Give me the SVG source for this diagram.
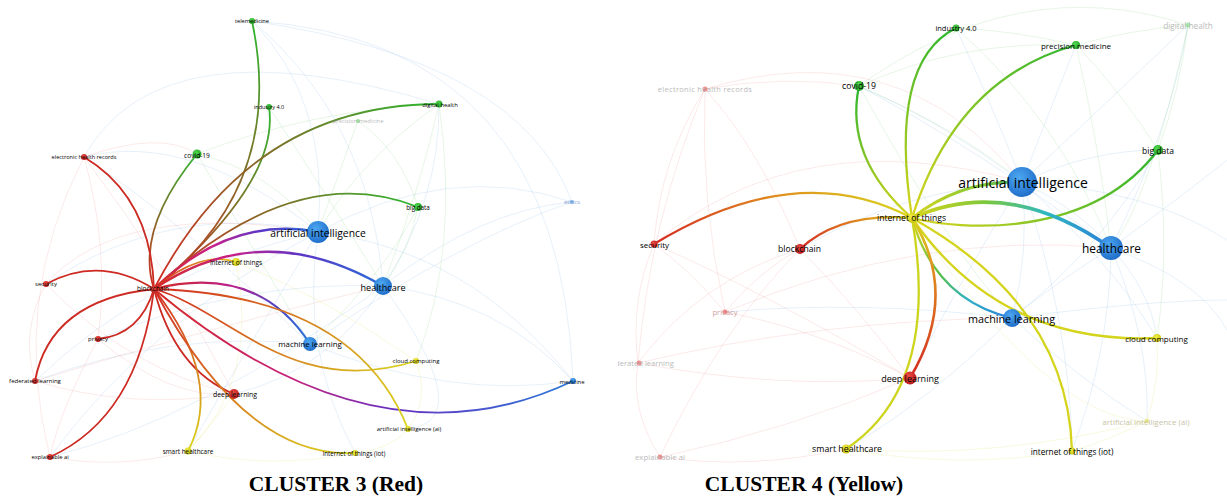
<svg xmlns="http://www.w3.org/2000/svg" width="1227" height="499" viewBox="0 0 1227 499">
<style>
  .lbl{font-family:"Open Sans","DejaVu Sans",sans-serif;fill:#000;text-anchor:middle;dominant-baseline:central}
  .dim{fill:#8c8c8c}
  .title{font-family:"Liberation Serif","Times New Roman",serif;font-weight:bold;font-size:21.5px;text-anchor:middle;fill:#000}
  .link{fill:none;stroke-linecap:round}
  .faint path{fill:none;stroke-width:1}
  .fr path{stroke:#ec7a7a;opacity:.17}
  .fb path{stroke:#8fbce8;opacity:.22}
  .fg path{stroke:#8fd88f;opacity:.22}
  .fy path{stroke:#e6e27a;opacity:.25}
</style>
<defs>
  <clipPath id="clipL"><rect x="0" y="0" width="598" height="472"/></clipPath>
  <clipPath id="clipR"><rect x="618" y="0" width="609" height="472"/></clipPath>

  <!-- node fills -->
  <radialGradient id="nBlue" cx="0.4" cy="0.35" r="0.75"><stop offset="0" stop-color="#4ea8f2"/><stop offset="1" stop-color="#1966c4"/></radialGradient>
  <radialGradient id="nGreen" cx="0.4" cy="0.35" r="0.75"><stop offset="0" stop-color="#4fd84f"/><stop offset="1" stop-color="#1f9a1f"/></radialGradient>
  <radialGradient id="nRed" cx="0.4" cy="0.35" r="0.75"><stop offset="0" stop-color="#f04a40"/><stop offset="1" stop-color="#b2161a"/></radialGradient>
  <radialGradient id="nYellow" cx="0.4" cy="0.35" r="0.75"><stop offset="0" stop-color="#f4f040"/><stop offset="1" stop-color="#c0bc10"/></radialGradient>

  <!-- cluster 3 link colours: blockchain (red) towards each partner -->
  <linearGradient id="gL-tele" gradientUnits="userSpaceOnUse" x1="154" y1="289" x2="252" y2="21"><stop offset="0" stop-color="#d42a22"/><stop offset="1" stop-color="#2fb52f"/></linearGradient>
  <linearGradient id="gL-ind" gradientUnits="userSpaceOnUse" x1="154" y1="289" x2="269" y2="107"><stop offset="0" stop-color="#d42a22"/><stop offset="1" stop-color="#2fb52f"/></linearGradient>
  <linearGradient id="gL-cov" gradientUnits="userSpaceOnUse" x1="154" y1="289" x2="197" y2="154"><stop offset="0" stop-color="#d42a22"/><stop offset="1" stop-color="#2fb52f"/></linearGradient>
  <linearGradient id="gL-dh" gradientUnits="userSpaceOnUse" x1="154" y1="289" x2="439" y2="104"><stop offset="0" stop-color="#d42a22"/><stop offset="1" stop-color="#2fb52f"/></linearGradient>
  <linearGradient id="gL-bd" gradientUnits="userSpaceOnUse" x1="154" y1="289" x2="418" y2="207"><stop offset="0" stop-color="#d42a22"/><stop offset="1" stop-color="#2fb52f"/></linearGradient>
  <linearGradient id="gL-ai" gradientUnits="userSpaceOnUse" x1="154" y1="289" x2="318" y2="232"><stop offset="0" stop-color="#d42a22"/><stop offset="0.4" stop-color="#c8208a"/><stop offset="0.7" stop-color="#5a36c8"/><stop offset="1" stop-color="#2a6fd8"/></linearGradient>
  <linearGradient id="gL-hc" gradientUnits="userSpaceOnUse" x1="154" y1="289" x2="383" y2="286"><stop offset="0" stop-color="#d42a22"/><stop offset="0.35" stop-color="#c8208a"/><stop offset="0.65" stop-color="#5a36c8"/><stop offset="1" stop-color="#2a6fd8"/></linearGradient>
  <linearGradient id="gL-ml" gradientUnits="userSpaceOnUse" x1="154" y1="289" x2="310" y2="344"><stop offset="0" stop-color="#d42a22"/><stop offset="0.45" stop-color="#b8208e"/><stop offset="0.75" stop-color="#4a48c8"/><stop offset="1" stop-color="#2a78d8"/></linearGradient>
  <linearGradient id="gL-med" gradientUnits="userSpaceOnUse" x1="154" y1="289" x2="573" y2="381"><stop offset="0" stop-color="#d42a22"/><stop offset="0.35" stop-color="#c8207a"/><stop offset="0.6" stop-color="#6a30c0"/><stop offset="1" stop-color="#2a78d8"/></linearGradient>
  <linearGradient id="gL-iot" gradientUnits="userSpaceOnUse" x1="154" y1="289" x2="236" y2="262"><stop offset="0" stop-color="#d42a22"/><stop offset="1" stop-color="#e8c020"/></linearGradient>
  <linearGradient id="gL-cc" gradientUnits="userSpaceOnUse" x1="154" y1="289" x2="416" y2="361"><stop offset="0" stop-color="#d42a22"/><stop offset="1" stop-color="#d9d51c"/></linearGradient>
  <linearGradient id="gL-aiai" gradientUnits="userSpaceOnUse" x1="154" y1="289" x2="408" y2="429"><stop offset="0" stop-color="#d42a22"/><stop offset="1" stop-color="#d9d51c"/></linearGradient>
  <linearGradient id="gL-sh" gradientUnits="userSpaceOnUse" x1="154" y1="289" x2="188" y2="451"><stop offset="0" stop-color="#d42a22"/><stop offset="1" stop-color="#d9d51c"/></linearGradient>
  <linearGradient id="gL-iotiot" gradientUnits="userSpaceOnUse" x1="154" y1="289" x2="355" y2="453"><stop offset="0" stop-color="#d42a22"/><stop offset="1" stop-color="#d9d51c"/></linearGradient>

  <!-- cluster 4 link colours: internet of things (yellow) towards each partner -->
  <linearGradient id="gR-ind" gradientUnits="userSpaceOnUse" x1="912" y1="218" x2="956" y2="28"><stop offset="0" stop-color="#d9d51c"/><stop offset="1" stop-color="#2fb52f"/></linearGradient>
  <linearGradient id="gR-pm" gradientUnits="userSpaceOnUse" x1="912" y1="218" x2="1076" y2="45"><stop offset="0" stop-color="#d9d51c"/><stop offset="1" stop-color="#2fb52f"/></linearGradient>
  <linearGradient id="gR-cov" gradientUnits="userSpaceOnUse" x1="912" y1="218" x2="859" y2="86"><stop offset="0" stop-color="#d9d51c"/><stop offset="1" stop-color="#2fb52f"/></linearGradient>
  <linearGradient id="gR-bd" gradientUnits="userSpaceOnUse" x1="912" y1="218" x2="1158" y2="150"><stop offset="0" stop-color="#d9d51c"/><stop offset="1" stop-color="#2fb52f"/></linearGradient>
  <linearGradient id="gR-ai" gradientUnits="userSpaceOnUse" x1="912" y1="218" x2="1022" y2="182"><stop offset="0" stop-color="#d9d51c"/><stop offset="0.7" stop-color="#7cc83a"/><stop offset="1" stop-color="#3cae6a"/></linearGradient>
  <linearGradient id="gR-hc" gradientUnits="userSpaceOnUse" x1="912" y1="218" x2="1111" y2="248"><stop offset="0" stop-color="#d9d51c"/><stop offset="0.35" stop-color="#7cc83a"/><stop offset="0.65" stop-color="#2fb8c0"/><stop offset="1" stop-color="#2a7ed8"/></linearGradient>
  <linearGradient id="gR-ml" gradientUnits="userSpaceOnUse" x1="912" y1="218" x2="1012" y2="318"><stop offset="0" stop-color="#d9d51c"/><stop offset="0.4" stop-color="#5cc040"/><stop offset="0.7" stop-color="#2fb0c8"/><stop offset="1" stop-color="#2a7ed8"/></linearGradient>
  <linearGradient id="gR-sec" gradientUnits="userSpaceOnUse" x1="912" y1="218" x2="654" y2="244"><stop offset="0" stop-color="#d9d51c"/><stop offset="0.5" stop-color="#e0901e"/><stop offset="1" stop-color="#d42a22"/></linearGradient>
  <linearGradient id="gR-bc" gradientUnits="userSpaceOnUse" x1="912" y1="218" x2="800" y2="249"><stop offset="0" stop-color="#d9d51c"/><stop offset="0.4" stop-color="#e09020"/><stop offset="1" stop-color="#d42a22"/></linearGradient>
  <linearGradient id="gR-dl" gradientUnits="userSpaceOnUse" x1="912" y1="218" x2="910" y2="378"><stop offset="0" stop-color="#d9d51c"/><stop offset="0.3" stop-color="#e0901e"/><stop offset="1" stop-color="#d42a22"/></linearGradient>
</defs>

<!-- ===================== CLUSTER 3 ===================== -->
<g id="cluster3" clip-path="url(#clipL)">
  <g id="c3-background-links" class="faint">
    <g class="fb">
      <path d="M318 232 Q470 250 573 381"/><path d="M318 232 Q450 160 572 202"/><path d="M318 232 Q330 100 252 21"/>
      <path d="M318 232 Q190 130 84 157"/><path d="M318 232 Q170 200 46 284"/><path d="M318 232 Q150 320 50 457"/>
      <path d="M318 232 Q150 270 35 381"/><path d="M318 232 Q240 360 188 451"/><path d="M318 232 Q300 350 355 453"/>
      <path d="M383 286 Q500 300 573 381"/><path d="M383 286 Q480 210 572 202"/><path d="M383 286 Q440 200 439 104"/>
      <path d="M383 286 Q370 120 252 21"/><path d="M383 286 Q240 280 98 339"/><path d="M383 286 Q330 370 234 394"/>
      <path d="M383 286 Q200 420 50 457"/><path d="M310 344 Q460 240 572 202"/><path d="M310 344 Q450 400 573 381"/>
      <path d="M310 344 Q170 330 35 381"/><path d="M310 344 Q180 220 84 157"/><path d="M252 21 Q560 40 573 381"/>
      <path d="M84 157 Q160 20 439 104"/><path d="M572 202 Q520 60 252 21"/><path d="M383 286 Q480 420 408 429"/>
    </g>
    <g class="fg">
      <path d="M439 104 Q360 160 318 232"/><path d="M439 104 Q420 190 383 286"/><path d="M418 207 Q410 250 383 286"/>
      <path d="M358 121 Q340 170 318 232"/><path d="M197 154 Q270 170 318 232"/><path d="M269 107 Q330 200 383 286"/>
      <path d="M439 104 Q310 110 197 154"/><path d="M358 121 Q400 150 418 207"/><path d="M418 207 Q380 280 310 344"/>
      <path d="M439 104 Q460 250 416 361"/><path d="M197 154 Q260 260 310 344"/>
    </g>
    <g class="fr">
      <path d="M84 157 Q110 250 98 339"/><path d="M46 284 Q20 330 35 381"/><path d="M98 339 Q170 400 234 394"/>
      <path d="M35 381 Q130 410 234 394"/><path d="M50 457 Q120 470 188 451"/><path d="M98 339 Q60 410 50 457"/>
      <path d="M46 284 Q130 370 234 394"/><path d="M84 157 Q170 270 234 394"/><path d="M84 157 Q10 300 50 457"/>
      <path d="M84 157 Q160 130 197 154"/><path d="M46 284 Q120 200 318 232"/><path d="M35 381 Q200 330 383 286"/>
    </g>
    <g class="fy">
      <path d="M188 451 Q270 470 355 453"/><path d="M416 361 Q430 400 408 429"/><path d="M236 262 Q330 300 416 361"/>
      <path d="M408 429 Q390 450 355 453"/><path d="M188 451 Q215 420 234 394"/><path d="M236 262 Q260 380 188 451"/>
    </g>
  </g>

  <g id="c3-links" stroke-width="1.8">
    <path class="link" stroke="url(#gL-tele)" d="M154 289 Q287 185 252 21"/>
    <path class="link" stroke="url(#gL-ind)" d="M154 289 Q280 182 269 107"/>
    <path class="link" stroke="url(#gL-cov)" d="M154 289 Q135 230 197 154"/>
    <path class="link" stroke="#cc2a22" d="M154 289 Q151 197 84 157"/>
    <path class="link" stroke="url(#gL-dh)" d="M154 289 Q250 104 439 104"/>
    <path class="link" stroke="url(#gL-bd)" d="M154 289 Q294 158 418 207"/>
    <path class="link" stroke="url(#gL-ai)" stroke-width="2.4" d="M154 289 Q230 215 318 232"/>
    <path class="link" stroke="url(#gL-iot)" d="M154 289 Q200 250 236 262"/>
    <path class="link" stroke="url(#gL-hc)" stroke-width="2.4" d="M154 289 Q262 216 383 286"/>
    <path class="link" stroke="#cc2a22" d="M154 289 Q100 255 46 284"/>
    <path class="link" stroke="#cc2a22" d="M154 289 Q140 335 98 339"/>
    <path class="link" stroke="url(#gL-ml)" stroke-width="2.2" d="M154 289 Q258 263 310 344"/>
    <path class="link" stroke="url(#gL-cc)" d="M154 289 C230 310 290 400 416 361"/>
    <path class="link" stroke="url(#gL-med)" d="M154 289 Q376 475 573 381"/>
    <path class="link" stroke="#cc2a22" d="M154 289 Q50 300 35 381"/>
    <path class="link" stroke="#cc2a22" d="M154 289 Q175 370 234 394"/>
    <path class="link" stroke="url(#gL-aiai)" d="M154 289 Q355 295 408 429"/>
    <path class="link" stroke="#cc2a22" d="M154 289 Q138 417 50 457"/>
    <path class="link" stroke="url(#gL-sh)" d="M154 289 Q225 380 188 451"/>
    <path class="link" stroke="url(#gL-iotiot)" d="M154 289 Q245 459 355 453"/>
  </g>

  <g id="c3-precision-medicine" opacity="0.6"><circle cx="358" cy="121" r="2" fill="#5ccc5c"/><text class="lbl dim" x="358" y="121" font-size="5.8">precision medicine</text></g>
  <g id="c3-ethics" opacity="0.8"><circle cx="572" cy="202" r="2" fill="#6aa6e6"/><text class="lbl" style="fill:#5a88c8" x="572" y="202" font-size="5.8">ethics</text></g>
  <g id="c3-telemedicine"><circle cx="252" cy="21" r="3" fill="url(#nGreen)"/><text class="lbl" x="252" y="21" font-size="5.7">telemedicine</text></g>
  <g id="c3-industry-4-0"><circle cx="269" cy="107" r="3" fill="url(#nGreen)"/><text class="lbl" x="269" y="107" font-size="5.5">industry 4.0</text></g>
  <g id="c3-electronic-health-records"><circle cx="84" cy="157" r="3" fill="url(#nRed)"/><text class="lbl" x="84" y="157" font-size="5.6">electronic health records</text></g>
  <g id="c3-covid-19"><circle cx="197" cy="154" r="4.5" fill="url(#nGreen)"/><text class="lbl" x="197" y="155" font-size="6.6">covid-19</text></g>
  <g id="c3-digital-health"><circle cx="439" cy="104" r="3.5" fill="url(#nGreen)"/><text class="lbl" x="440" y="105" font-size="5.9">digital health</text></g>
  <g id="c3-big-data"><circle cx="418" cy="207" r="4" fill="url(#nGreen)"/><text class="lbl" x="418" y="207" font-size="6.3">big data</text></g>
  <g id="c3-artificial-intelligence"><circle cx="318" cy="232" r="11" fill="url(#nBlue)"/><text class="lbl" x="318" y="233" font-size="10.3">artificial intelligence</text></g>
  <g id="c3-internet-of-things"><circle cx="236" cy="262" r="4" fill="url(#nYellow)"/><text class="lbl" x="236" y="262" font-size="6.5">internet of things</text></g>
  <g id="c3-blockchain"><circle cx="154" cy="289" r="3.5" fill="url(#nRed)"/><text class="lbl" x="153" y="288" font-size="6.4">blockchain</text></g>
  <g id="c3-healthcare"><circle cx="383" cy="286" r="9" fill="url(#nBlue)"/><text class="lbl" x="383" y="287" font-size="9.1">healthcare</text></g>
  <g id="c3-security"><circle cx="46" cy="284" r="3" fill="url(#nRed)"/><text class="lbl" x="46" y="284" font-size="6">security</text></g>
  <g id="c3-privacy"><circle cx="98" cy="339" r="3" fill="url(#nRed)"/><text class="lbl" x="98" y="339" font-size="6">privacy</text></g>
  <g id="c3-machine-learning"><circle cx="310" cy="344" r="7" fill="url(#nBlue)"/><text class="lbl" x="310" y="344" font-size="7.9">machine learning</text></g>
  <g id="c3-cloud-computing"><circle cx="416" cy="361" r="3" fill="url(#nYellow)"/><text class="lbl" x="416" y="361" font-size="6">cloud computing</text></g>
  <g id="c3-medicine"><circle cx="573" cy="381" r="3" fill="url(#nBlue)"/><text class="lbl" x="572" y="382" font-size="5.9">medicine</text></g>
  <g id="c3-federated-learning"><circle cx="35" cy="381" r="3" fill="url(#nRed)"/><text class="lbl" x="35" y="381" font-size="6">federated learning</text></g>
  <g id="c3-deep-learning"><circle cx="234" cy="394" r="5" fill="url(#nRed)"/><text class="lbl" x="235" y="394" font-size="6.9">deep learning</text></g>
  <g id="c3-artificial-intelligence-ai"><circle cx="408" cy="429" r="3" fill="url(#nYellow)"/><text class="lbl" x="409" y="429" font-size="5.9">artificial intelligence (ai)</text></g>
  <g id="c3-explainable-ai"><circle cx="50" cy="457" r="3" fill="url(#nRed)"/><text class="lbl" x="50" y="457" font-size="5.8">explainable ai</text></g>
  <g id="c3-smart-healthcare"><circle cx="188" cy="451" r="3.5" fill="url(#nYellow)"/><text class="lbl" x="188" y="451" font-size="6.4">smart healthcare</text></g>
  <g id="c3-internet-of-things-iot"><circle cx="355" cy="453" r="3" fill="url(#nYellow)"/><text class="lbl" x="354" y="453" font-size="6.2">internet of things (iot)</text></g>
</g>

<!-- ===================== CLUSTER 4 ===================== -->
<g id="cluster4" clip-path="url(#clipR)">
  <g id="c4-background-links" class="faint">
    <g class="fr">
      <path d="M705 89 Q760 150 800 249"/><path d="M705 89 Q660 160 654 244"/><path d="M705 89 Q780 75 859 86"/>
      <path d="M705 89 Q700 200 725 312"/><path d="M705 89 Q650 220 638 363"/><path d="M654 244 Q630 300 638 363"/>
      <path d="M654 244 Q690 270 725 312"/><path d="M725 312 Q820 330 910 378"/><path d="M638 363 Q780 390 910 378"/>
      <path d="M660 457 Q630 410 638 363"/><path d="M660 457 Q750 470 846 449"/><path d="M660 457 Q720 330 800 249"/>
      <path d="M638 363 Q700 280 800 249"/><path d="M725 312 Q760 270 800 249"/><path d="M654 244 Q760 290 910 378"/>
      <path d="M800 249 Q860 310 910 378"/><path d="M660 457 Q790 430 910 378"/><path d="M638 363 Q820 320 1012 318"/>
      <path d="M725 312 Q920 230 1111 248"/><path d="M654 244 Q800 120 1022 182"/><path d="M705 89 Q900 30 1022 182"/>
    </g>
    <g class="fb">
      <path d="M1022 182 Q990 100 956 28"/><path d="M1022 182 Q1050 110 1076 45"/><path d="M1022 182 Q1120 90 1188 25"/>
      <path d="M1022 182 Q1090 150 1158 150"/><path d="M1022 182 Q1080 210 1111 248"/><path d="M1022 182 Q1030 250 1012 318"/>
      <path d="M1022 182 Q1110 260 1157 338"/><path d="M1022 182 Q1070 320 1072 451"/><path d="M1022 182 Q940 120 859 86"/>
      <path d="M1022 182 Q900 190 800 249"/><path d="M1022 182 Q960 280 910 378"/><path d="M1111 248 Q1170 130 1188 25"/>
      <path d="M1111 248 Q1150 290 1157 338"/><path d="M1111 248 Q1060 280 1012 318"/><path d="M1111 248 Q1150 340 1147 421"/>
      <path d="M1111 248 Q1110 350 1072 451"/><path d="M1111 248 Q980 150 859 86"/><path d="M1012 318 Q1080 380 1147 421"/>
      <path d="M1012 318 Q930 400 846 449"/><path d="M1012 318 Q860 300 725 312"/><path d="M1012 318 Q1100 250 1158 150"/>
      <path d="M1111 248 Q1200 280 1227 330"/><path d="M1022 182 Q1150 190 1227 240"/><path d="M1111 248 Q1190 190 1227 160"/>
      <path d="M1012 318 Q1150 300 1227 300"/>
    </g>
    <g class="fg">
      <path d="M1188 25 Q1130 30 1076 45"/><path d="M1188 25 Q1180 90 1158 150"/><path d="M1076 45 Q1120 90 1158 150"/>
      <path d="M956 28 Q1010 30 1076 45"/><path d="M859 86 Q960 40 1076 45"/><path d="M1158 150 Q1170 250 1157 338"/>
      <path d="M859 86 Q1020 -30 1188 25"/><path d="M859 86 Q960 130 1022 182"/><path d="M956 28 Q1060 120 1111 248"/>
      <path d="M1076 45 Q1100 150 1111 248"/><path d="M1188 25 Q1150 200 1111 248"/><path d="M859 86 Q950 250 1012 318"/>
    </g>
    <g class="fy">
      <path d="M1157 338 Q1160 380 1147 421"/><path d="M1072 451 Q1110 440 1147 421"/><path d="M846 449 Q960 470 1072 451"/>
      <path d="M1147 421 Q1000 460 846 449"/><path d="M912 218 Q1050 420 1147 421"/>
    </g>
  </g>

  <g id="c4-links" stroke-width="2.3">
    <path class="link" stroke="url(#gR-ind)" d="M912 218 Q888 62 956 28"/>
    <path class="link" stroke="url(#gR-pm)" d="M912 218 Q956 78 1076 45"/>
    <path class="link" stroke="url(#gR-cov)" d="M912 218 Q844 158 859 86"/>
    <path class="link" stroke="url(#gR-bd)" d="M912 218 C960 230 1090 240 1158 150"/>
    <path class="link" stroke="url(#gR-ai)" stroke-width="3" d="M912 218 Q960 180 1022 182"/>
    <path class="link" stroke="url(#gR-hc)" stroke-width="3.6" d="M912 218 Q1008 175 1111 248"/>
    <path class="link" stroke="url(#gR-sec)" d="M912 218 Q797 157 654 244"/>
    <path class="link" stroke="url(#gR-bc)" d="M912 218 Q840 212 800 249"/>
    <path class="link" stroke="url(#gR-ml)" d="M912 218 Q935 300 1012 318"/>
    <path class="link" stroke="#d4d41c" d="M912 218 Q1000 345 1157 338"/>
    <path class="link" stroke="url(#gR-dl)" stroke-width="2.6" d="M912 218 Q960 295 910 378"/>
    <path class="link" stroke="#cdd41c" d="M912 218 Q941 386 846 449"/>
    <path class="link" stroke="#d4d41c" d="M912 218 Q1068 305 1072 451"/>
  </g>

  <g id="c4-electronic-health-records" opacity="0.6"><circle cx="705" cy="89" r="2.5" fill="#e84a4a"/><text class="lbl dim" x="705" y="89" font-size="7.5" letter-spacing="0.3">electronic health records</text></g>
  <g id="c4-digital-health" opacity="0.6"><circle cx="1188" cy="25" r="2.5" fill="#7ad87a"/><text class="lbl dim" x="1188" y="25" font-size="8.2">digital health</text></g>
  <g id="c4-privacy" opacity="0.6"><circle cx="725" cy="312" r="2.5" fill="#e84a4a"/><text class="lbl" style="fill:#b06060" x="725" y="312" font-size="7.6">privacy</text></g>
  <g id="c4-federated-learning" opacity="0.6"><circle cx="639" cy="363" r="2.5" fill="#e84a4a"/><text class="lbl dim" x="641" y="363" font-size="7.6">federated learning</text></g>
  <g id="c4-explainable-ai" opacity="0.6"><circle cx="660" cy="457" r="2.5" fill="#e84a4a"/><text class="lbl dim" x="660" y="457" font-size="7.8">explainable ai</text></g>
  <g id="c4-artificial-intelligence-ai" opacity="0.6"><circle cx="1147" cy="421" r="2.5" fill="#e6e260"/><text class="lbl" style="fill:#a09a6a" x="1146" y="421" font-size="8">artificial intelligence (ai)</text></g>

  <g id="c4-industry-4-0"><circle cx="956" cy="28" r="3.5" fill="url(#nGreen)"/><text class="lbl" x="956" y="28" font-size="7.5">industry 4.0</text></g>
  <g id="c4-precision-medicine"><circle cx="1076" cy="45" r="4" fill="url(#nGreen)"/><text class="lbl" x="1076" y="45" font-size="8">precision medicine</text></g>
  <g id="c4-covid-19"><circle cx="859" cy="86" r="5" fill="url(#nGreen)"/><text class="lbl" x="859" y="86" font-size="8.7">covid-19</text></g>
  <g id="c4-big-data"><circle cx="1158" cy="150" r="5" fill="url(#nGreen)"/><text class="lbl" x="1158" y="150" font-size="8.5">big data</text></g>
  <g id="c4-artificial-intelligence"><circle cx="1022" cy="182" r="15" fill="url(#nBlue)"/><text class="lbl" x="1023" y="182" font-size="14">artificial intelligence</text></g>
  <g id="c4-internet-of-things"><circle cx="912" cy="218" r="5" fill="url(#nYellow)"/><text class="lbl" x="911.5" y="218" font-size="8.6">internet of things</text></g>
  <g id="c4-healthcare"><circle cx="1111" cy="248" r="12" fill="url(#nBlue)"/><text class="lbl" x="1111.5" y="248" font-size="11.9">healthcare</text></g>
  <g id="c4-security"><circle cx="654" cy="244" r="3.5" fill="url(#nRed)"/><text class="lbl" x="654.5" y="244" font-size="8">security</text></g>
  <g id="c4-blockchain"><circle cx="800" cy="249" r="5" fill="url(#nRed)"/><text class="lbl" x="799.5" y="249" font-size="8.6">blockchain</text></g>
  <g id="c4-machine-learning"><circle cx="1012" cy="318" r="9" fill="url(#nBlue)"/><text class="lbl" x="1011.5" y="318" font-size="10.8">machine learning</text></g>
  <g id="c4-cloud-computing"><circle cx="1157" cy="338" r="4" fill="url(#nYellow)"/><text class="lbl" x="1156.5" y="338" font-size="8">cloud computing</text></g>
  <g id="c4-deep-learning"><circle cx="910" cy="378" r="6.5" fill="url(#nRed)"/><text class="lbl" x="910" y="378" font-size="9">deep learning</text></g>
  <g id="c4-smart-healthcare"><circle cx="846" cy="449" r="4.5" fill="url(#nYellow)"/><text class="lbl" x="847" y="449" font-size="8.8">smart healthcare</text></g>
  <g id="c4-internet-of-things-iot"><circle cx="1072" cy="451" r="3.5" fill="url(#nYellow)"/><text class="lbl" x="1072" y="451" font-size="8.2">internet of things (iot)</text></g>
</g>

<g id="captions">
  <text class="title" x="336" y="491">CLUSTER 3 (Red)</text>
  <text class="title" x="804" y="491">CLUSTER 4 (Yellow)</text>
</g>
</svg>
